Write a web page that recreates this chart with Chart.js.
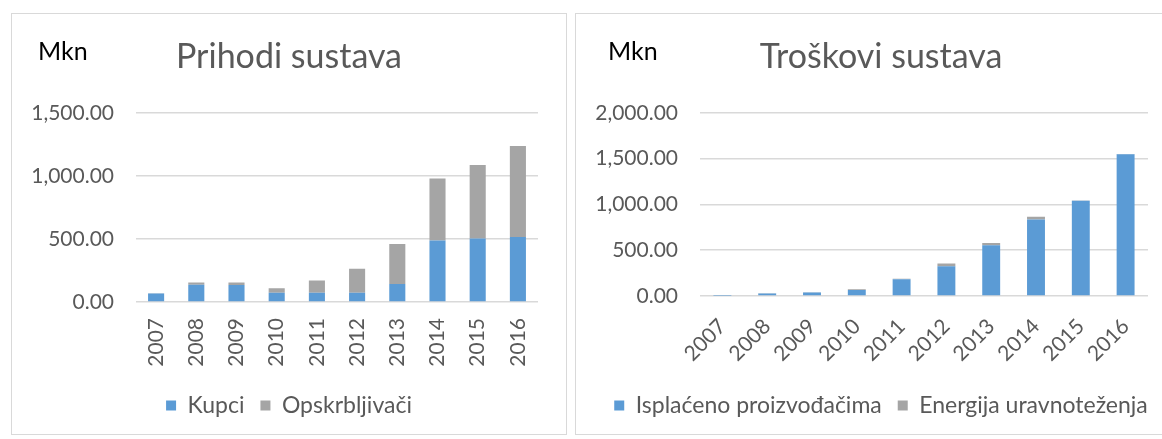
<!DOCTYPE html>
<html>
<head>
<meta charset="utf-8">
<script src="https://cdn.jsdelivr.net/npm/chart.js@4"></script>
<style>
  html, body { margin: 0; padding: 0; background: #fff; overflow: hidden; }
  body { width: 1162px; height: 439px; position: relative; font-family: Lato, sans-serif; }
  .panel { position: absolute; top: 13px; height: 422px; border: 1px solid #d9d9d9; box-sizing: border-box; }
  #left { left: 11px; width: 556px; }
  #right { left: 575px; width: 611px; border-right: none; }
  .unit { position: absolute; top: 24px; font-size: 25px; line-height: 25px; color: #000; }
  canvas { position: absolute; left: 0; top: 0; }
</style>
</head>
<body>
<div class="panel" id="left">
  <canvas id="prihodi"></canvas>
  <span class="unit" style="left: 26px;">Mkn</span>
</div>
<div class="panel" id="right">
  <canvas id="troskovi"></canvas>
  <span class="unit" style="left: 32px;">Mkn</span>
</div>
<script>
const years = ['2007', '2008', '2009', '2010', '2011', '2012', '2013', '2014', '2015', '2016'];

// Prihodi sustava (Mkn)
const kupci = [68, 137, 134, 74, 74, 74, 142, 488, 504, 515];
const opskrbljivaci = [2, 18, 21, 36, 97, 189, 318, 492, 583, 721];

// Troškovi sustava (Mkn)
const isplaceno = [2, 27, 38, 65, 183, 325, 553, 835, 1041, 1548];
const energija = [0, 2, 3, 8, 5, 30, 26, 29, 2, 2];

const blue = '#5b9bd5';
const grey = '#a5a5a5';
const textGrey = '#595959';

function fmt(v) {
    return v.toLocaleString('en-US', { minimumFractionDigits: 2, maximumFractionDigits: 2 });
}

function makeChart(id, title, names, series, yMax, rotation, xHeight, tickPad, rightGap) {
    const el = document.getElementById(id);
    return new Chart(el.getContext('2d'), {
        type: 'bar',
        data: {
            labels: years,
            datasets: [
                { label: names[0], data: series[0], backgroundColor: blue, borderWidth: 0 },
                { label: names[1], data: series[1], backgroundColor: grey, borderWidth: 0 }
            ]
        },
        options: {
            responsive: true,
            maintainAspectRatio: false,
            animation: false,
            layout: { padding: { left: 0, right: 0, top: 0, bottom: 7 } },
            datasets: { bar: { categoryPercentage: 1, barPercentage: 0.4 } },
            scales: {
                x: {
                    stacked: true,
                    grid: { display: false, drawTicks: false },
                    border: { display: false },
                    ticks: {
                        color: textGrey,
                        font: { size: 21 },
                        minRotation: rotation,
                        maxRotation: rotation,
                        padding: tickPad
                    },
                    afterFit: function (scale) { scale.height = xHeight; }
                },
                y: {
                    stacked: true,
                    min: 0,
                    max: yMax,
                    grid: { color: '#d9d9d9', lineWidth: 1.5, drawTicks: false },
                    border: { display: false },
                    ticks: {
                        stepSize: 500,
                        color: textGrey,
                        font: { size: 21 },
                        padding: 22,
                        callback: function (v) { return fmt(v); }
                    },
                    afterFit: function (scale) { scale.width = 124; }
                },
                // empty spacer on the right so the legend and title stay centred on the panel
                spacer: {
                    type: 'linear',
                    position: 'right',
                    grid: { display: false, drawTicks: false },
                    border: { display: false },
                    ticks: { display: false },
                    afterFit: function (scale) { scale.width = rightGap; }
                }
            },
            plugins: {
                title: {
                    display: true,
                    text: title,
                    color: textGrey,
                    font: { size: 34, weight: 'normal' },
                    padding: { top: 23, bottom: 35 }
                },
                legend: {
                    position: 'bottom',
                    labels: {
                        color: textGrey,
                        font: { size: 23 },
                        boxWidth: 10,
                        boxHeight: 10,
                        padding: 16
                    }
                },
                tooltip: { enabled: false }
            }
        }
    });
}

function draw() {
    Chart.defaults.font.family = 'Lato, sans-serif';
    makeChart('prihodi', 'Prihodi sustava', ['Kupci', 'Opskrbljivači'],
        [kupci, opskrbljivaci], 1500, 90, 76, 16, 28);
    makeChart('troskovi', 'Troškovi sustava', ['Isplaćeno proizvođačima', 'Energija uravnoteženja'],
        [isplaceno, energija], 2000, 45, 82, 18, 38);
}

document.fonts.load('20px Lato').then(draw, draw);
</script>
</body>
</html>
